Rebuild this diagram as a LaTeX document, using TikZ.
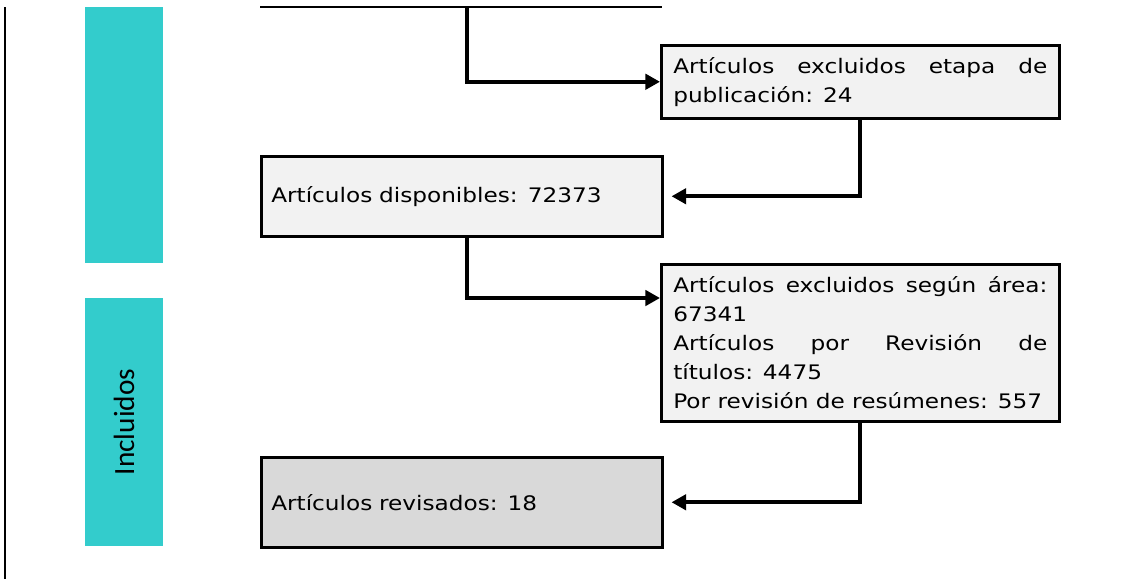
\documentclass[tikz,border=0pt]{standalone}
\usepackage{fontspec}
\setmainfont{DejaVu Sans}[FakeStretch=1.16]
\newfontfamily\etiqfont{Carlito}
\usetikzlibrary{arrows.meta}
\definecolor{turquesa}{HTML}{33CCCC}
\definecolor{grisclaro}{HTML}{F2F2F2}
\definecolor{grisoscuro}{HTML}{D9D9D9}
\tikzset{
    caja/.style={draw=black, line width=1.9pt, fill=grisclaro, anchor=north west,
        font=\fontsize{15}{21.75}\selectfont, inner ysep=0pt},
    cajader/.style={caja, text width=280.5pt, inner xsep=9pt, align=justify},
    cajaizq/.style={caja, text width=285.75pt, inner xsep=7.5pt, align=left},
    flecha/.style={line width=2.8pt, -{Triangle[length=11pt,width=11.5pt]}},
    franja/.style={fill=turquesa}
}

\begin{document}
\begin{tikzpicture}[x=0.75pt, y=-0.75pt]
                    \useasboundingbox (0,0) rectangle (1130,579);
                    % linea lateral y franjas
                    \draw[line width=1.75pt] (5,7) -- (5,579);
                    \fill[franja] (85,7) rectangle (163,263);
                    \fill[franja] (85,298) rectangle (163,546);
                    \node[rotate=90, font=\etiqfont\fontsize{22}{22}\selectfont] (incl) at (124,422) {Incluidos};
                    % borde de la caja superior
                    \coordinate (supA) at (260,7);
                    \coordinate (supB) at (662,7);
                    \coordinate (rama) at (467,7);
                    \draw[line width=1.9pt] (supA) -- (supB);
                    % cajas
                    \node[cajader, minimum height=54.75pt] (excl1) at (660,44)
                        {Artículos excluidos etapa de\linebreak publicación: 24};
                    \node[cajaizq, minimum height=60pt] (disp) at (260,155)
                        {Artículos disponibles: 72373};
                    \node[cajader, minimum height=117.75pt] (excl2) at (660,263)
                        {Artículos excluidos según área:\linebreak 67341\\
                         Artículos por Revisión de\linebreak títulos: 4475\\
                         Por revisión de resúmenes: 557};
                    \node[cajaizq, fill=grisoscuro, minimum height=67.5pt] (rev) at (260,456)
                        {Artículos revisados: 18};
                    % conectores
                    \draw[flecha] (rama) |- (excl1.west);
                    \draw[flecha] (excl1.south) |- ([xshift=6pt]disp.east);
                    \draw[flecha] (disp.south -| rama) |- ([yshift=-26.25pt]excl2.north west);
                    \draw[flecha] (excl2.south) |- ([xshift=6pt]rev.east);
                \end{tikzpicture}
\end{document}
